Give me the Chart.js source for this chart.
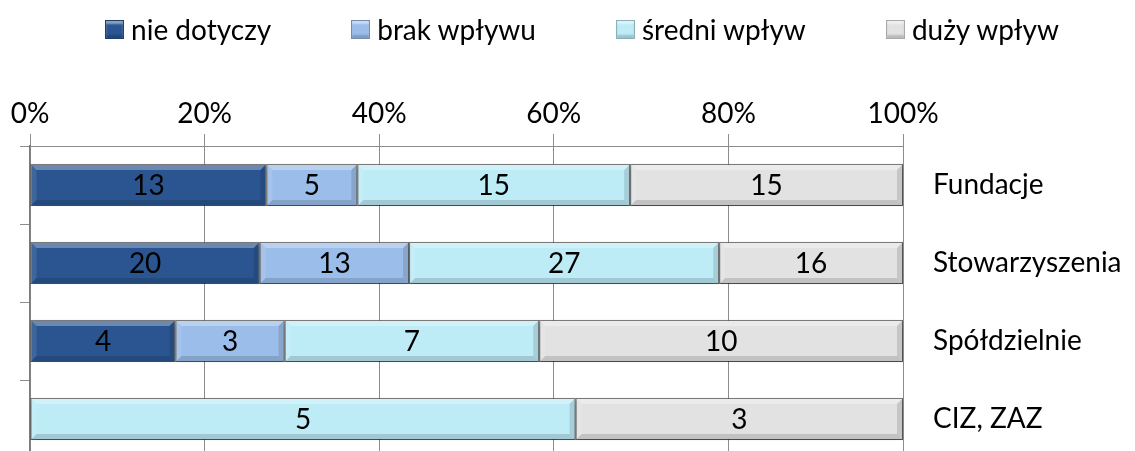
<!DOCTYPE html>
<html lang="pl">
<head>
<meta charset="utf-8">
<title>Wpływ na organizacje</title>
<script src="https://cdn.jsdelivr.net/npm/chart.js@4.4.1/dist/chart.umd.min.js"></script>
<style>
  html, body { margin: 0; padding: 0; background: #fff; overflow: hidden; }
  #wrap { position: relative; width: 1135px; height: 462px; }
  #legend {
    position: absolute; left: 0; top: 12px; width: 1164px;
    display: flex; justify-content: center; gap: 80px;
    font-family: Lato, "Noto Sans", sans-serif; font-size: 28px; color: #000;
  }
  #legend .item { display: flex; align-items: center; gap: 7px; white-space: nowrap; }
  #legend .box {
    width: 19px; height: 19px; box-sizing: border-box;
    border: 1px solid rgba(0,0,0,0.25);
    box-shadow: inset 0 3px 2px rgba(255,255,255,0.45), inset 0 -3px 2px rgba(0,0,0,0.18);
  }
  canvas { display: block; }
</style>
</head>
<body>
<div id="wrap">
  <div id="legend"></div>
  <canvas id="chart" width="1135" height="462"></canvas>
</div>
<script>
const categories = ["Fundacje", "Stowarzyszenia", "Spółdzielnie", "CIZ, ZAZ"];
const seriesNames = ["nie dotyczy", "brak wpływu", "średni wpływ", "duży wpływ"];
const nieDotyczy = [13, 20, 4, 0];
const brakWplywu = [5, 13, 3, 0];
const sredniWplyw = [15, 27, 7, 5];
const duzyWplyw = [15, 16, 10, 3];
const xTicks = [0, 20, 40, 60, 80, 100];

const COLORS = ["#2A5590", "#9BBDE9", "#BDEBF6", "#E2E2E2"];
const FONT = "Lato, 'Noto Sans', sans-serif";
const FONT_SIZE = 28;
const GRID = "#8C8C8C";

const counts = [nieDotyczy, brakWplywu, sredniWplyw, duzyWplyw];
const totals = categories.map((_, i) => counts.reduce((s, arr) => s + arr[i], 0));

// 100% stacked: each bar is the share of its row total, labels keep raw counts
const datasets = counts.map((arr, k) => ({
  label: seriesNames[k],
  data: arr.map((v, i) => (v / totals[i]) * 100),
  raw: arr,
  backgroundColor: COLORS[k],
  borderColor: "rgba(40,40,40,0.45)",
  borderWidth: 1,
  borderSkipped: false,
  categoryPercentage: 1,
  barPercentage: 0.54,
}));

// legend row above the plot
const legendEl = document.getElementById("legend");
seriesNames.forEach((name, k) => {
  const item = document.createElement("div");
  item.className = "item";
  const box = document.createElement("span");
  box.className = "box";
  box.style.backgroundColor = COLORS[k];
  const txt = document.createElement("span");
  txt.textContent = name;
  item.appendChild(box);
  item.appendChild(txt);
  legendEl.appendChild(item);
});

/** soft drop shadow under the bars, then a bevel on each segment */
const bevelBars = {
  id: "bevelBars",
  beforeDatasetsDraw(chart) {
    const ctx = chart.ctx;
    ctx.save();
    ctx.shadowColor = "rgba(0,0,0,0.35)";
    ctx.shadowBlur = 5;
    ctx.shadowOffsetY = 3;
  },
  afterDatasetsDraw(chart) {
    const ctx = chart.ctx;
    ctx.restore();
    const b = 6;
    chart.data.datasets.forEach((ds, di) => {
      chart.getDatasetMeta(di).data.forEach((bar) => {
        const l = Math.min(bar.x, bar.base), r = Math.max(bar.x, bar.base);
        if (r - l < 2) return;
        const t = bar.y - bar.height / 2, btm = bar.y + bar.height / 2;
        const poly = (pts, fill) => {
          ctx.beginPath();
          ctx.moveTo(pts[0][0], pts[0][1]);
          for (let i = 1; i < pts.length; i++) ctx.lineTo(pts[i][0], pts[i][1]);
          ctx.closePath();
          ctx.fillStyle = fill;
          ctx.fill();
        };
        ctx.save();
        poly([[l, t], [r, t], [r - b, t + b], [l + b, t + b]], "rgba(255,255,255,0.30)");
        poly([[l, btm], [r, btm], [r - b, btm - b], [l + b, btm - b]], "rgba(0,0,0,0.14)");
        poly([[l, t], [l + b, t + b], [l + b, btm - b], [l, btm]], "rgba(255,255,255,0.10)");
        poly([[r, t], [r - b, t + b], [r - b, btm - b], [r, btm]], "rgba(0,0,0,0.12)");
        ctx.lineWidth = 1;
        ctx.strokeStyle = "rgba(40,40,40,0.45)";
        ctx.strokeRect(l + 0.5, t + 0.5, r - l - 1, btm - t - 1);
        ctx.restore();
      });
    });
  },
};

/** count written in the middle of each segment */
const segmentLabels = {
  id: "segmentLabels",
  afterDatasetsDraw(chart) {
    const ctx = chart.ctx;
    ctx.save();
    ctx.font = `${FONT_SIZE}px ${FONT}`;
    ctx.fillStyle = "#000";
    ctx.textAlign = "center";
    ctx.textBaseline = "middle";
    chart.data.datasets.forEach((ds, di) => {
      chart.getDatasetMeta(di).data.forEach((bar, i) => {
        const v = ds.raw[i];
        if (!v) return;
        ctx.fillText(String(v), (bar.x + bar.base) / 2, bar.y + 1);
      });
    });
    ctx.restore();
  },
};

Chart.defaults.font.family = FONT;
Chart.defaults.font.size = FONT_SIZE;
Chart.defaults.color = "#000";

new Chart(document.getElementById("chart"), {
  type: "bar",
  data: { labels: categories, datasets },
  plugins: [bevelBars, segmentLabels],
  options: {
    indexAxis: "y",
    responsive: false,
    animation: false,
    layout: { padding: { left: 20, right: 0, top: 0, bottom: 4 } },
    plugins: { legend: { display: false }, tooltip: { enabled: false } },
    scales: {
      x: {
        position: "top",
        stacked: true,
        min: 0,
        max: 100,
        afterBuildTicks: (axis) => { axis.ticks = xTicks.map((v) => ({ value: v })); },
        afterFit: (axis) => { axis.height = 146; },
        ticks: { padding: 3, callback: (v) => v + "%" },
        grid: { color: GRID, tickLength: 12, lineWidth: 1 },
        border: { color: GRID },
      },
      y: {
        position: "right",
        stacked: true,
        // labels sit well clear of the plot; keep that gap out of the vertical padding
        afterFit: (axis) => {
          axis.width = 232;
          axis.paddingTop = 0;
          axis.paddingBottom = 0;
        },
        ticks: { padding: 22, align: "center", crossAlign: "near" },
        grid: { display: false },
        border: { display: false },
      },
      yEdge: {
        type: "category",
        position: "left",
        labels: categories,
        afterFit: (axis) => { axis.width = 10; },
        ticks: { display: false },
        grid: { offset: true, drawOnChartArea: false, tickLength: 10, color: GRID },
        border: { color: "#7A7A7A", width: 1.5 },
      },
    },
  },
});
</script>
</body>
</html>
